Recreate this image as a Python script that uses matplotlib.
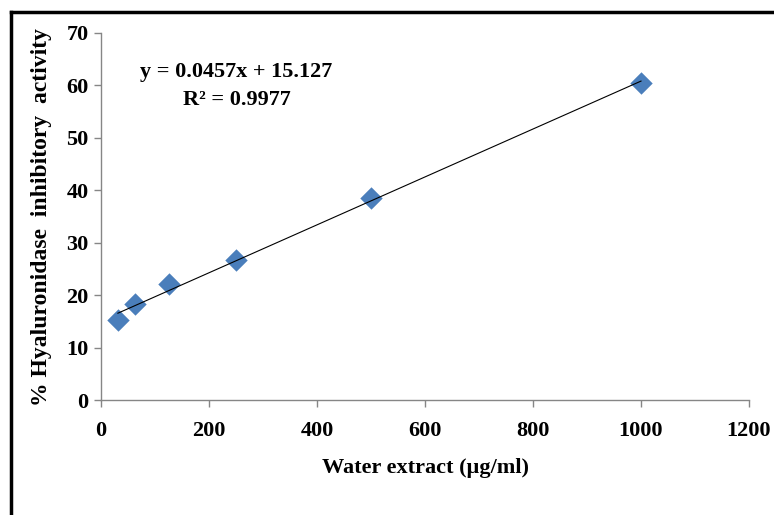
import matplotlib
matplotlib.use("Agg")
import matplotlib.pyplot as plt
import numpy as np
from matplotlib.lines import Line2D

concentration = [31.25, 62.5, 125, 250, 500, 1000]
inhibition = [15.3, 18.3, 22.1, 26.7, 38.5, 60.5]
slope = 0.0457
intercept = 15.127
r2 = 0.9977
xticks = [0, 200, 400, 600, 800, 1000, 1200]
yticks = [0, 10, 20, 30, 40, 50, 60, 70]

plt.rcParams['font.family'] = ['Liberation Serif', 'DejaVu Serif']
plt.rcParams['font.weight'] = 'bold'

W, H = 774, 515
fig = plt.figure(figsize=(W/100, H/100), dpi=100)
ax = fig.add_axes([101/W, 1-400/H, (749-101)/W, (400-33)/H])

ax.scatter(concentration, inhibition, marker='D', s=130, color='#4A7EBB', zorder=3, linewidths=0)
xs = np.array([concentration[0], concentration[-1]])
ax.plot(xs, slope*xs + intercept, color='black', lw=0.8, zorder=4)

ax.set_xlim(0, 1200)
ax.set_ylim(0, 70)
ax.set_xticks(xticks)
ax.set_yticks(yticks)
ax.tick_params(axis='both', direction='out', length=5, width=1, color='#868686',
               labelsize=16)
ax.tick_params(axis='x', pad=10)
ax.tick_params(axis='y', pad=4)
for lab in ax.get_xticklabels() + ax.get_yticklabels():
    lab.set_fontweight('bold')
for s in ['top', 'right']:
    ax.spines[s].set_visible(False)
for s in ['left', 'bottom']:
    ax.spines[s].set_color('#868686')
    ax.spines[s].set_linewidth(1)

ax.set_xlabel('Water extract (µg/ml)', fontsize=16, fontweight='bold', labelpad=12)
ax.set_ylabel('% Hyaluronidase  inhibitory  activity', fontsize=17, fontweight='bold', labelpad=10)

fig.text(236/W, 1-72/H, f'y = {slope}x + {intercept}', fontsize=16, fontweight='bold',
         ha='center', va='center')
fig.text(237/W, 1-100/H, f'R² = {r2}', fontsize=16, fontweight='bold',
         ha='center', va='center')

fig.add_artist(Line2D([11/W, 11/W], [0, 1-12/H], transform=fig.transFigure, color='black', lw=2.5))
fig.add_artist(Line2D([11/W, 1], [1-12/H, 1-12/H], transform=fig.transFigure, color='black', lw=2.5))

fig.savefig('out.png', dpi=100)
